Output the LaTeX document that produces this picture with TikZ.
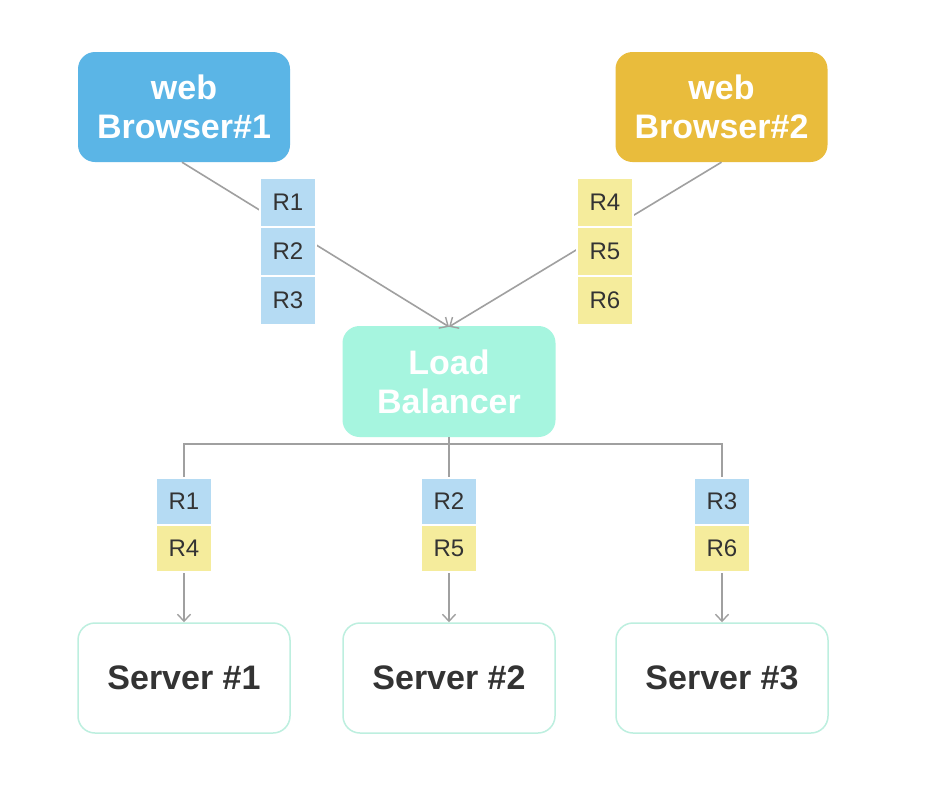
\documentclass[tikz,border=0pt]{standalone}
\usepackage{fontspec}
\setmainfont{Liberation Sans}
\usetikzlibrary{arrows.meta}
\definecolor{bblue}{HTML}{5BB5E6}
\definecolor{bgold}{HTML}{E9BC3C}
\definecolor{lbmint}{HTML}{A6F5DF}
\definecolor{rblue}{HTML}{B5DBF3}
\definecolor{ryellow}{HTML}{F5EC9C}
\definecolor{srvborder}{HTML}{BDEFDF}
\definecolor{txtdark}{HTML}{333333}
\definecolor{linegray}{HTML}{A0A0A0}
\tikzset{
  bigbox/.style={minimum width=212pt, minimum height=110pt, rounded corners=17pt, align=center,
    font=\fontsize{34}{39}\selectfont\bfseries, inner sep=0pt},
  browser/.style={bigbox, text=white},
  server/.style={bigbox, fill=white, draw=srvborder, line width=1.5pt, text=txtdark},
  rcell/.style={minimum width=56pt, minimum height=49pt, inner sep=0pt, draw=white, line width=1.2pt,
    font=\fontsize{24}{27}\selectfont, text=txtdark},
  rb/.style={rcell, fill=rblue},
  ry/.style={rcell, fill=ryellow},
  conn/.style={draw=linegray, line width=1.6pt},
  arr/.style={conn, -{Straight Barb[length=7pt,width=13pt,line width=1.4pt]}}
}
\begin{document}
\begin{tikzpicture}[x=1pt,y=-1pt]
\useasboundingbox[fill=white] (0,0) rectangle (936,790);
% main nodes
\node[browser, fill=bblue] (b1) at (184,107) {web\\Browser\#1};
\node[browser, fill=bgold] (b2) at (721.5,107) {web\\Browser\#2};
\node[bigbox, fill=lbmint, text=white, minimum width=213pt, minimum height=111pt] (lb) at (449,381.5) {Load\\Balancer};
\node[server] (s1) at (184,678) {Server \#1};
\node[server] (s2) at (449,678) {Server \#2};
\node[server] (s3) at (722,678) {Server \#3};
% connectors
\coordinate (j) at (449,444);
\draw[arr] ([xshift=-2pt]b1.south) -- ([yshift=-1pt]lb.north);
\draw[arr] (b2.south) -- ([yshift=-1pt]lb.north);
\draw[conn] (lb.south) -- (j);
\draw[arr] (j) -| (s1.north);
\draw[arr] (j) -- (s2.north);
\draw[arr] (j) -| (s3.north);
% request cells top
\node[rb] (r1) at (288,202.5) {R1};
\node[rb] (r2) at (288,251.5) {R2};
\node[rb] (r3) at (288,300.5) {R3};
\node[ry] (r4) at (605,202.5) {R4};
\node[ry] (r5) at (605,251.5) {R5};
\node[ry] (r6) at (605,300.5) {R6};
% request cells bottom
\node[rb, minimum height=47pt] (a1) at (184,501.5) {R1};
\node[ry, minimum height=47pt] (a4) at (184,548.5) {R4};
\node[rb, minimum height=47pt] (c2) at (449,501.5) {R2};
\node[ry, minimum height=47pt] (c5) at (449,548.5) {R5};
\node[rb, minimum height=47pt] (d3) at (722,501.5) {R3};
\node[ry, minimum height=47pt] (d6) at (722,548.5) {R6};
\end{tikzpicture}
\end{document}
